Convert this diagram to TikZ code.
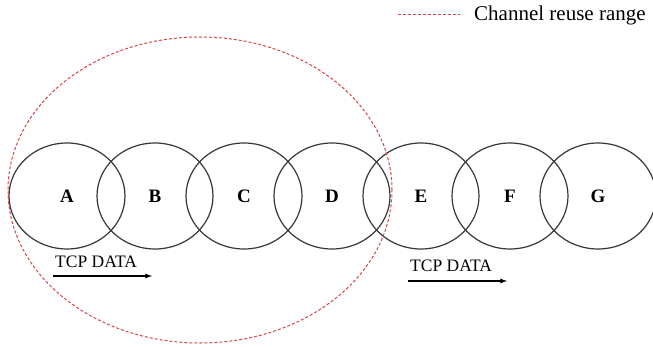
\documentclass[tikz,border=0pt]{standalone}
\usepackage{fontspec}
\setmainfont{Liberation Serif}
\usepackage{xcolor}
\usetikzlibrary{arrows,calc,shapes.geometric}
\definecolor{rangered}{RGB}{215,70,70}
\definecolor{ringgray}{RGB}{55,55,55}
\tikzset{
	cell/.style={
			draw=ringgray, line width=1.2pt, ellipse,
			minimum width=116pt, minimum height=106pt, inner sep=0pt,
			font=\fontsize{19}{19}\selectfont\bfseries
		},
	reuse/.style={draw=rangered, line width=1pt, dash pattern=on 3pt off 2pt},
	flow/.style={->, >=latex, line width=1.3pt},
	flowtext/.style={font=\fontsize{17.5}{17.5}\selectfont, inner sep=0pt}
}

\begin{document}
\begin{tikzpicture}[x=1pt, y=1pt]
			\useasboundingbox (0, 0) rectangle (653, 346);

			\node[cell] (A) at (67, 150) {A};
			\node[cell] (B) at (155, 150) {B};
			\node[cell] (C) at (244, 150) {C};
			\node[cell] (D) at (332, 150) {D};
			\node[cell] (E) at (421, 150) {E};
			\node[cell] (F) at (510, 150) {F};
			\node[cell] (G) at (598, 150) {G};

			\draw[reuse]	(200, 156) ellipse (192 and 153);

			\coordinate (legstart) at (398, 331);
			\coordinate (legend) at (460, 331);
			\draw[reuse]	(legstart) -- (legend);
			\node[anchor=west, font=\fontsize{21}{21}\selectfont, inner sep=0pt] (legtext) at (474, 331) {Channel reuse range};

			\node[flowtext, anchor=west] (tcpone) at (55, 84) {TCP DATA};
			\coordinate (onestart) at (53, 70);
			\coordinate (oneend) at (152, 70);
			\draw[flow]	(onestart) -- (oneend);

			\node[flowtext, anchor=west] (tcptwo) at (410, 80) {TCP DATA};
			\coordinate (twostart) at (408, 65);
			\coordinate (twoend) at (507, 65);
			\draw[flow]	(twostart) -- (twoend);
		\end{tikzpicture}
\end{document}
